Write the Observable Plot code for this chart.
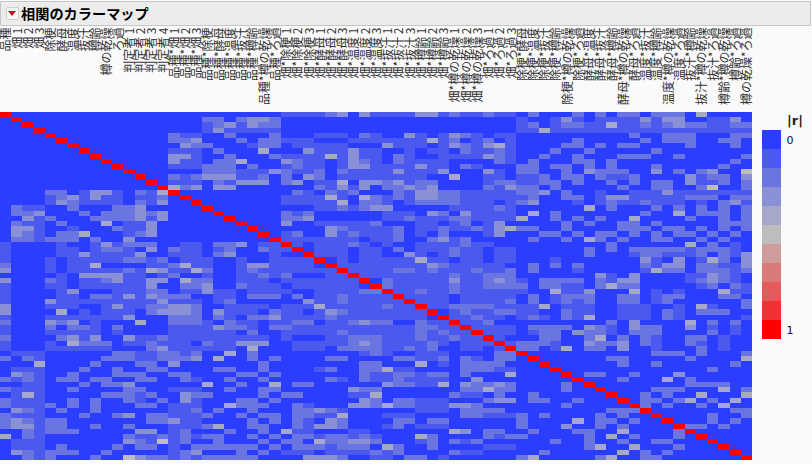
<!DOCTYPE html>
<html lang="ja">
<head>
<meta charset="utf-8">
<script src="https://cdn.jsdelivr.net/npm/d3@7"></script>
<script src="https://cdn.jsdelivr.net/npm/@observablehq/plot@0.6"></script>
<style>
html,body{margin:0;padding:0;background:#fafafa;width:812px;height:464px;overflow:hidden}
body{position:relative;font-family:"Noto Sans CJK JP",sans-serif}
#head{position:absolute;left:0;top:1px;width:809px;height:23px;background:#ececec;border:1px solid #c6c6c6;border-radius:1px}
#btn{position:absolute;left:5px;top:5px;width:13px;height:13px;background:#f6f6f6;border:1px solid #cfcfcf;box-sizing:border-box;border-radius:2px}
#btn:after{content:"";position:absolute;left:1px;top:3px;border-left:4.5px solid transparent;border-right:4.5px solid transparent;border-top:5px solid #c80f14}
#title{position:absolute;left:20px;top:1px;font-size:14.2px;font-weight:700;line-height:21px;color:#000;white-space:nowrap}
#chart{position:absolute;left:0;top:26px}
#rlabel{position:absolute;left:787px;top:113px;font:bold 13px "DejaVu Sans",sans-serif;color:#222}
#legend{position:absolute;left:762px;top:130px}
svg{display:block;overflow:visible}
</style>
</head>
<body>
<div id="head"><div id="btn"></div><div id="title">相関のカラーマップ</div></div>
<div id="chart"></div>
<div id="rlabel">|r|</div>
<div id="legend"></div>
<script>
const mainEffects = ["品種","畑 1","畑 2","畑 3","除梗","酵母","温度","抜汁","樽齢","樽の乾燥","ろ過"];
const judges = ["判定者 1","判定者 2","判定者 3","判定者 4"];
const varietyTerms = ["品種*畑 1","品種*畑 2","品種*畑 3","品種*除梗","品種*酵母","品種*温度","品種*抜汁","品種*樽齢","品種*樽の乾燥","品種*ろ過"];
const fieldTerms = ["畑*除梗 1","畑*除梗 2","畑*除梗 3","畑*酵母 1","畑*酵母 2","畑*酵母 3","畑*温度 1","畑*温度 2","畑*温度 3","畑*抜汁 1","畑*抜汁 2","畑*抜汁 3","畑*樽齢 1","畑*樽齢 2","畑*樽齢 3","畑*樽の乾燥 1","畑*樽の乾燥 2","畑*樽の乾燥 3","畑*ろ過 1","畑*ろ過 2","畑*ろ過 3"];
const otherTerms = ["除梗*酵母","除梗*温度","除梗*抜汁","除梗*樽齢","除梗*樽の乾燥","除梗*ろ過","酵母*温度","酵母*抜汁","酵母*樽齢","酵母*樽の乾燥","酵母*ろ過","温度*抜汁","温度*樽齢","温度*樽の乾燥","温度*ろ過","抜汁*樽齢","抜汁*樽の乾燥","抜汁*ろ過","樽齢*樽の乾燥","樽齢*ろ過","樽の乾燥*ろ過"];
const terms = [...mainEffects, ...judges, ...varietyTerms, ...fieldTerms, ...otherTerms];

// |r| in tenths: upper triangle, each row starts just right of the diagonal.
const upperTriangle = [
"00000000000000 0000000000 1111230311113312 11211 02000 20202 20222 04000 0",
"0000000000000 0002202332 0000000000000000 00000 10013 10111 13133 00113 0",
"000000000000 0001231322 0000000000000000 00000 12012 21141 12123 22112 2",
"00000000000 0001311111 0000000000000000 00000 11411 11111 11111 11111 1",
"0000000000 2110020002 0001110210031013 21011 00000 00000 20022 20002 2",
"000000000 2230002022 1110001111111412 01201 00000 20000 02022 20022 0",
"00000000 0322000122 0111110003111013 21341 00002 20202 20000 20002 0",
"0000000 1110200040 0031113110010110 21121 00020 02000 00200 00000 0",
"000000 3310020002 1111413110210011 11321 00200 20002 22002 00000 2",
"00000 3110224000 3211013210211110 00021 02000 22020 00000 00002 0",
"0000 1112220200 1211013311113110 21000 22022 02020 00200 00020 0",
"000 0002221113 2112021111311130 00310 22002 03222 00302 02300 5",
"00 2123331120 2032011111111004 00110 11202 20211 20000 31220 3",
"0 1110213330 2301140332312200 00122 11220 20020 20220 31120 2",
"4230330000 0002131302232300 00213 22020 00002 00220 02500 2",
"000000000 0210212000213322 11111 22302 00100 11131 11111 1",
"00000000 1111410421213322 11111 12002 20133 11111 22202 2",
"0000000 1111140221012222 11101 23000 10121 12111 01023 1",
"000000 0001121233000001 11121 00000 04020 00202 02020 2",
"00000 2120000001110320 31111 04020 00000 02004 02220 2",
"0000 2230000001121112 21111 40020 20200 40000 20020 2",
"000 3001111120001101 20130 00002 02002 20200 00022 2",
"00 0000321111201121 12134 22002 00002 22022 02020 2",
"0 1200312111201020 00130 00220 20220 20202 20202 0",
"1111111011200231 20000 02002 04202 00220 02020 0",
"101112101001111 21100 00000 00020 00000 40201 0",
"01110110201112 11011 00000 02020 22222 12221 0",
"1110110031012 11011 00000 02000 12211 12021 3",
"010111114110 11011 00010 00000 03103 01420 3",
"11111111321 11110 02020 20000 02133 02211 3",
"1111221211 12112 02000 10000 01422 02221 2",
"111111112 11222 00000 00310 30000 11321 0",
"02111113 11232 10222 20213 30000 12321 0",
"2111112 11222 20221 10242 20000 01202 1",
"112112 11111 10041 13000 40101 00041 1",
"11110 11111 02012 22002 20122 00022 0",
"1110 11112 02012 12002 20120 00000 2",
"112 22211 11401 11001 11001 04100 2",
"01 21122 11002 11001 11021 02220 0",
"1 12110 12102 14001 11021 00000 1",
"11200 00000 00020 30000 40202 0",
"1111 02222 03210 32200 30101 0",
"111 01220 32210 22200 00201 0",
"10 00220 02402 02100 22010 0",
"1 22210 03223 02100 21010 0",
"22014 02203 00100 02010 0",
"0000 00000 00222 02000 2",
"000 00022 00000 20000 4",
"00 00002 00200 00002 0",
"0 00000 00000 00200 0",
"02200 20003 00000 0",
"0002 00040 20000 0",
"000 00000 22220 0",
"00 00222 00040 2",
"0 02020 04000 4",
"02202 40204 0",
"2020 02040 0",
"000 00002 2",
"00 00200 2",
"0 00202 0",
"22020 0",
"00000","0000","000","00","0",""
];
const diagonalLevel = 10;
const legendLevels = [0,1,2,3,4,5,6,7,8,9,10];
const palette = ["#2b3dff","#4b59ef","#6a75e2","#8a90d6","#a5a8cb","#bdbdbd","#cf9c9c","#d97a7a","#e55a5a","#f23232","#ff0000"];
const colorScale = {type:"threshold", domain:[0.5,1.5,2.5,3.5,4.5,5.5,6.5,7.5,8.5,9.5], range:palette};

const cells = [];
upperTriangle.forEach((row,i)=>{
  cells.push({a:terms[i], b:terms[i], r:diagonalLevel});
  Array.from(row.replace(/\s/g,"")).forEach((ch,k)=>{
    const other = terms[i+1+k];
    cells.push({a:terms[i], b:other, r:+ch});
    cells.push({a:other, b:terms[i], r:+ch});
  });
});

document.getElementById("chart").append(Plot.plot({
  width:812, height:438,
  marginTop:86, marginLeft:0, marginRight:60, marginBottom:4,
  style:{background:"transparent", fontFamily:'"Noto Sans CJK JP",sans-serif'},
  x:{type:"band", domain:terms, padding:0, round:false, axis:null},
  y:{type:"band", domain:terms, padding:0, round:false, axis:null},
  color:colorScale,
  marks:[
    Plot.cell(cells,{x:"b", y:"a", fill:"r", inset:0, shapeRendering:"crispEdges"}),
    Plot.axisX({anchor:"top", tickSize:0, tickPadding:85, tickRotate:-90, textAnchor:"end", fontSize:12, fill:"#333", label:null, dx:0.5})
  ]
}));

document.getElementById("legend").append(Plot.plot({
  width:50, height:209,
  marginTop:0, marginBottom:0, marginLeft:0, marginRight:31,
  style:{background:"transparent", fontFamily:'"DejaVu Sans",sans-serif', fontSize:"11px", color:"#111"},
  x:{axis:null},
  y:{type:"band", domain:legendLevels, padding:0, round:false, axis:null},
  color:colorScale,
  marks:[
    Plot.cell(legendLevels,{y:d=>d, fill:d=>d, shapeRendering:"crispEdges"}),
    Plot.axisY({anchor:"right", ticks:[0,10], tickFormat:d=>d===0?"0":"1", tickSize:0, tickPadding:5, label:null, textAnchor:"start", fontSize:11})
  ]
}));
</script>
</body>
</html>
